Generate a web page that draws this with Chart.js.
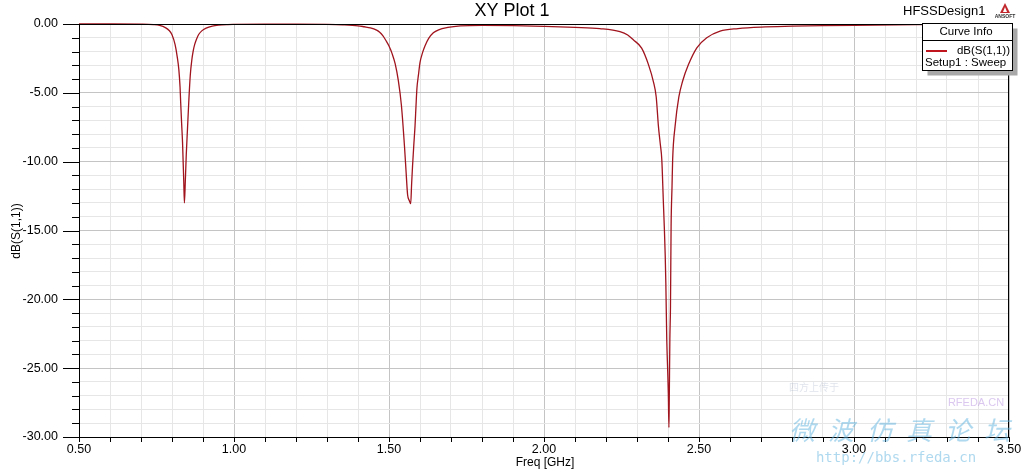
<!DOCTYPE html>
<html><head><meta charset="utf-8">
<script src="https://cdn.jsdelivr.net/npm/chart.js@4/dist/chart.umd.min.js"></script>
<style>html,body{margin:0;padding:0;background:#fff;}canvas{display:block;}</style>
</head><body>
<canvas id="c" width="1030" height="472"></canvas>
<script>
const freqGHz = [0.50,0.60,0.70,0.74,0.76,0.78,0.79,0.80,0.81,0.817,0.822,0.826,0.828,0.831,0.834,0.838,0.840,0.843,0.846,0.850,0.854,0.859,0.864,0.868,0.873,0.879,0.886,0.896,0.91,0.93,0.95,0.98,1.00,1.10,1.20,1.30,1.35,1.40,1.42,1.44,1.46,1.47,1.48,1.49,1.50,1.51,1.52,1.53,1.54,1.55,1.555,1.56,1.565,1.570,1.573,1.576,1.580,1.584,1.587,1.590,1.595,1.600,1.608,1.616,1.628,1.643,1.66,1.69,1.73,1.80,1.90,2.00,2.10,2.18,2.245,2.27,2.288,2.315,2.337,2.353,2.362,2.369,2.375,2.380,2.385,2.388,2.391,2.393,2.396,2.399,2.401,2.403,2.404,2.406,2.408,2.410,2.413,2.415,2.423,2.435,2.447,2.466,2.493,2.525,2.568,2.626,2.70,2.80,2.90,3.00,3.20,3.50];
const dbS11 = [0,0,-0.01,-0.04,-0.1,-0.28,-0.45,-0.78,-1.5,-2.4,-3.3,-4.6,-5.7,-7.2,-8.6,-11.5,-13.0,-11.4,-9.5,-7.6,-5.7,-3.7,-2.6,-2.0,-1.5,-1.1,-0.76,-0.5,-0.3,-0.15,-0.08,-0.04,-0.03,-0.01,-0.01,-0.03,-0.06,-0.13,-0.2,-0.28,-0.45,-0.6,-0.85,-1.2,-1.6,-2.15,-2.9,-4.1,-5.9,-8.9,-10.7,-12.4,-12.8,-13.05,-11.6,-10.3,-8.8,-7.4,-6.0,-4.7,-3.7,-2.8,-2.1,-1.6,-1.05,-0.64,-0.42,-0.25,-0.14,-0.1,-0.12,-0.17,-0.24,-0.33,-0.55,-0.8,-1.15,-1.75,-2.95,-4.2,-5.3,-7.4,-8.7,-9.85,-12.9,-14.7,-16.8,-18.8,-22.9,-25.2,-26.8,-29.3,-27.5,-22.9,-20.5,-14.7,-11.8,-9.85,-7.4,-5.3,-4.16,-2.95,-1.73,-1.0,-0.52,-0.33,-0.22,-0.16,-0.12,-0.09,-0.05,-0.02];
const xRange = [0.5, 3.5];
const yRange = [-30, 0];
const chartTitle = "XY Plot 1";
const designName = "HFSSDesign1";
const xTitle = "Freq [GHz]";
const yTitle = "dB(S(1,1))";
const legendHeader = "Curve Info";
const seriesName = "dB(S(1,1))";
const seriesSetup = "Setup1 : Sweep";

const FONT = "'Liberation Sans', Arial, sans-serif";
const isMult = (v, m) => Math.abs(v / m - Math.round(v / m)) < 1e-6;

const decor = {
  id: 'decor',
  afterDatasetsDraw(chart) {
    const {ctx, chartArea: a, scales: {x, y}} = chart;
    ctx.save();
    ctx.strokeStyle = '#000'; ctx.lineWidth = 1;
    ctx.strokeRect(Math.round(a.left) + 0.5, Math.round(a.top) + 0.5, Math.round(a.right - a.left) - 1, Math.round(a.bottom - a.top));
    ctx.beginPath();
    for (let v = yRange[0]; v <= yRange[1] + 1e-9; v += 1) {
      const py = Math.round(y.getPixelForValue(v)) + 0.5;
      const len = isMult(v, 5) ? 16 : 7;
      ctx.moveTo(a.left - len, py); ctx.lineTo(a.left, py);
    }
    for (let i = 0; i <= 30; i++) {
      const v = xRange[0] + i * 0.1;
      const px = Math.round(x.getPixelForValue(v)) + 0.5;
      ctx.moveTo(px, a.bottom); ctx.lineTo(px, a.bottom + 5);
    }
    ctx.stroke();
    ctx.restore();
  },
  afterDraw(chart) {
    const {ctx} = chart;
    ctx.save();
    ctx.fillStyle = '#000';
    ctx.textBaseline = 'middle';
    ctx.font = `18px ${FONT}`; ctx.textAlign = 'center';
    ctx.fillText(chartTitle, 512, 11);
    ctx.font = `13px ${FONT}`; ctx.textAlign = 'left';
    ctx.fillText(designName, 903, 11);
    // Ansoft logo
    ctx.fillStyle = '#c0282d';
    ctx.beginPath(); ctx.moveTo(1005, 3); ctx.lineTo(1000, 13); ctx.lineTo(1010, 13); ctx.closePath(); ctx.fill();
    ctx.fillStyle = '#fff';
    ctx.beginPath(); ctx.moveTo(1005, 7); ctx.lineTo(1003, 12); ctx.lineTo(1007, 12); ctx.closePath(); ctx.fill();
    ctx.fillStyle = '#333'; ctx.font = `bold 5px ${FONT}`; ctx.textAlign = 'center';
    ctx.fillText('ANSOFT', 1005, 17);
    // axis titles
    ctx.fillStyle = '#000';
    ctx.font = `12px ${FONT}`; ctx.textAlign = 'center';
    ctx.fillText(xTitle, 545, 463);
    ctx.save(); ctx.translate(17, 231); ctx.rotate(-Math.PI / 2);
    ctx.fillText(yTitle, 0, 0); ctx.restore();
    // legend
    const L = 922.5, T = 23.5, W = 90, H = 47;
    ctx.fillStyle = '#a8a8a8';
    ctx.fillRect(L + 5, T + 5, W, H);
    ctx.fillStyle = '#fff';
    ctx.fillRect(L, T, W, H);
    ctx.strokeStyle = '#000'; ctx.lineWidth = 1;
    ctx.strokeRect(L, T, W, H);
    ctx.beginPath(); ctx.moveTo(L, 40.5); ctx.lineTo(L + W, 40.5); ctx.stroke();
    ctx.fillStyle = '#000'; ctx.font = `11.5px ${FONT}`; ctx.textAlign = 'center';
    ctx.fillText(legendHeader, 966, 32);
    ctx.strokeStyle = '#c0141e'; ctx.lineWidth = 2;
    ctx.beginPath(); ctx.moveTo(926, 51); ctx.lineTo(947, 51); ctx.stroke();
    ctx.textAlign = 'right';
    ctx.fillText(seriesName, 1010, 51);
    ctx.textAlign = 'left';
    ctx.fillText(seriesSetup, 925, 63);
    // watermark
    ctx.globalAlpha = 0.5;
    ctx.fillStyle = '#5fb4e0';
    ctx.font = `italic 26px 'Noto Sans CJK SC'`; ctx.textAlign = 'center';
    const wm = '微波仿真论坛';
    for (let i = 0; i < wm.length; i++) ctx.fillText(wm[i], 802 + i * 39, 430);
    ctx.font = `14px 'DejaVu Sans Mono', monospace`;
    ctx.fillText('http://bbs.rfeda.cn', 896, 458);
    ctx.fillStyle = '#b890e0'; ctx.font = `11px ${FONT}`;
    ctx.fillText('RFEDA.CN', 976, 403);
    ctx.globalAlpha = 0.25; ctx.fillStyle = '#8090b0';
    ctx.font = `10px 'Noto Sans CJK SC'`;
    ctx.fillText('四方上传于', 814, 387);
    ctx.restore();
  }
};

const points = freqGHz.map((f, i) => ({x: f, y: dbS11[i]}));

new Chart(document.getElementById('c'), {
  type: 'line',
  data: { datasets: [{
    label: seriesName, data: points,
    borderColor: '#a0141e', borderWidth: 1.3, pointRadius: 0,
    cubicInterpolationMode: 'monotone', fill: false
  }]},
  options: {
    responsive: false, animation: false, devicePixelRatio: 1,
    clip: 2,
    layout: { padding: { top: 24, right: 21, left: 0, bottom: 0 } },
    plugins: { legend: { display: false }, title: { display: false }, tooltip: { enabled: false } },
    scales: {
      x: {
        type: 'linear', min: xRange[0], max: xRange[1],
        afterFit: s => { s.height = 35; s.paddingLeft = 0; s.paddingRight = 0; },
        border: { display: false },
        grid: { drawTicks: false, lineWidth: 1,
          color: c => isMult(c.tick.value, 0.5) ? '#c4c4c4' : '#e6e6e6' },
        ticks: { stepSize: 0.1, autoSkip: false, maxRotation: 0, padding: 5, color: '#000',
          font: { family: FONT, size: 12.5 },
          callback: v => isMult(v, 0.5) ? v.toFixed(2) : '' }
      },
      y: {
        min: yRange[0], max: yRange[1],
        afterFit: s => { s.width = 79; s.paddingTop = 0; s.paddingBottom = 0; },
        border: { display: false },
        grid: { drawTicks: false, lineWidth: 1,
          color: c => isMult(c.tick.value, 5) ? '#c4c4c4' : '#e6e6e6' },
        ticks: { stepSize: 1, autoSkip: false, padding: 21, color: '#000',
          font: { family: FONT, size: 12.5 },
          callback: v => isMult(v, 5) ? v.toFixed(2) : '' }
      }
    }
  },
  plugins: [decor]
});
</script>
</body></html>
